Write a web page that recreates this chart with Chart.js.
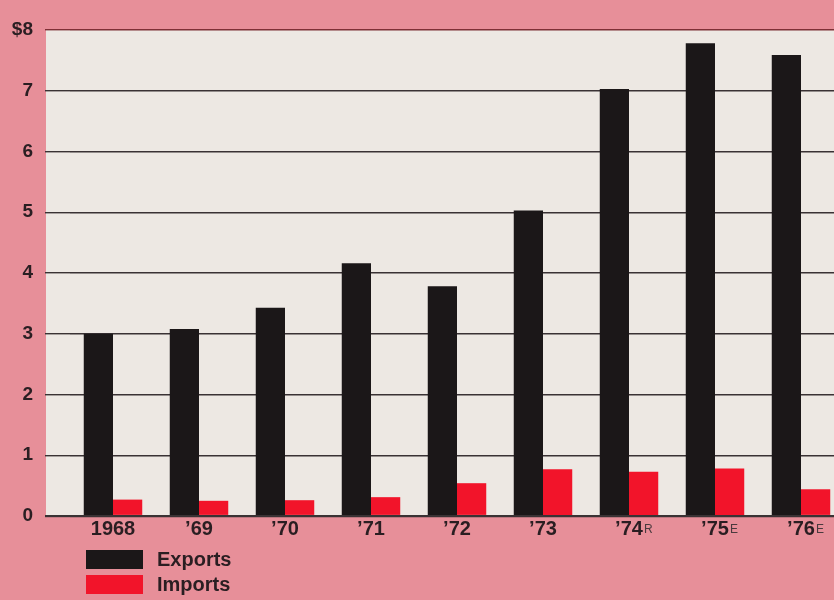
<!DOCTYPE html>
<html>
<head>
<meta charset="utf-8">
<script src="https://cdn.jsdelivr.net/npm/chart.js@4/dist/chart.umd.min.js"></script>
<style>
  html, body { margin: 0; padding: 0; background: #e78f99; overflow: hidden; width: 834px; height: 600px; }
  #wrap { position: relative; width: 850px; height: 600px; }
  #legend { position: absolute; left: 86px; top: 547px; font: bold 20px "Liberation Sans", Arial, sans-serif; color: #2a1e22; }
  #legend div { display: flex; align-items: center; height: 25px; }
  #legend span.box { display: inline-block; width: 57px; height: 19px; margin-right: 14px; }
</style>
</head>
<body>
<div id="wrap">
  <canvas id="chartCanvas" width="850" height="600"></canvas>
  <div id="legend"></div>
</div>
<script>
"use strict";

// Exports and imports, billions of dollars
const years = ['1968', '\u201969', '\u201970', '\u201971', '\u201972', '\u201973', '\u201974', '\u201975', '\u201976'];
const yearNotes = ['', '', '', '', '', '', 'R', 'E', 'E'];
const exportsValues = [3.0, 3.08, 3.43, 4.16, 3.78, 5.03, 7.03, 7.78, 7.59];
const importsValues = [0.27, 0.25, 0.26, 0.31, 0.54, 0.77, 0.73, 0.78, 0.44];
const yTicks = [0, 1, 2, 3, 4, 5, 6, 7, 8];

const FONT = '"Liberation Sans", Arial, sans-serif';
const INK = '#2a1e22';
const LABEL_SIZE = 20;

// paper colour behind the plot, running out under the tick stubs
const paperPlugin = {
    id: 'paper',
    beforeDraw(chart) {
        const { ctx, chartArea } = chart;
        ctx.save();
        ctx.fillStyle = '#ede8e3';
        ctx.fillRect(chartArea.left - 24, chartArea.top, chartArea.right - chartArea.left + 24, chartArea.bottom - chartArea.top);
        ctx.restore();
    }
};

// small R / E marks after the year labels
const notesPlugin = {
    id: 'yearNotes',
    afterDraw(chart) {
        const { ctx } = chart;
        const x = chart.scales.x;
        ctx.save();
        yearNotes.forEach((note, i) => {
            if (!note) return;
            ctx.font = 'bold ' + LABEL_SIZE + 'px ' + FONT;
            const w = ctx.measureText(years[i]).width;
            const px = x.getPixelForValue(i) + w / 2 + 1;
            ctx.font = '12px ' + FONT;
            ctx.fillStyle = '#4a3a3e';
            ctx.textBaseline = 'top';
            ctx.fillText(note, px, x.top + 8);
        });
        ctx.restore();
    }
};

const ctx = document.getElementById('chartCanvas').getContext('2d');
const chart = new Chart(ctx, {
    type: 'bar',
    data: {
        labels: years,
        datasets: [{
            label: 'Exports',
            data: exportsValues,
            backgroundColor: '#1b1718',
            categoryPercentage: 0.68,
            barPercentage: 1.0
        }, {
            label: 'Imports',
            data: importsValues,
            backgroundColor: '#f2142a',
            categoryPercentage: 0.68,
            barPercentage: 1.0
        }]
    },
    options: {
        responsive: false,
        animation: false,
        devicePixelRatio: 1,
        layout: { padding: { top: 30, right: 6, left: 0, bottom: 0 } },
        plugins: {
            legend: { display: false },
            tooltip: { enabled: false }
        },
        scales: {
            x: {
                grid: { display: false, drawTicks: false },
                border: { display: false },
                ticks: {
                    color: INK,
                    font: { family: FONT, size: LABEL_SIZE, weight: 'bold' },
                    padding: 1,
                    maxRotation: 0
                },
                afterFit: s => { s.height = 84; }
            },
            y: {
                min: 0,
                max: 8,
                afterBuildTicks: s => { s.ticks = yTicks.map(v => ({ value: v })); },
                grid: {
                    color: c => c.tick && c.tick.value === 8 ? '#7e3036' : '#3a3234',
                    lineWidth: c => c.tick && c.tick.value === 0 ? 2.2 : 1.4,
                    tickLength: 25
                },
                border: { display: false },
                ticks: {
                    color: INK,
                    font: { family: FONT, size: 19, weight: 'bold' },
                    padding: 12,
                    callback: v => v === 8 ? '$8' : String(v)
                },
                afterFit: s => { s.width = 70; }
            }
        }
    },
    plugins: [paperPlugin, notesPlugin]
});

// legend stacked under the first columns
const legendEl = document.getElementById('legend');
chart.data.datasets.forEach(ds => {
    const row = document.createElement('div');
    const box = document.createElement('span');
    box.className = 'box';
    box.style.background = ds.backgroundColor;
    row.appendChild(box);
    row.appendChild(document.createTextNode(ds.label));
    legendEl.appendChild(row);
});
</script>
</body>
</html>
